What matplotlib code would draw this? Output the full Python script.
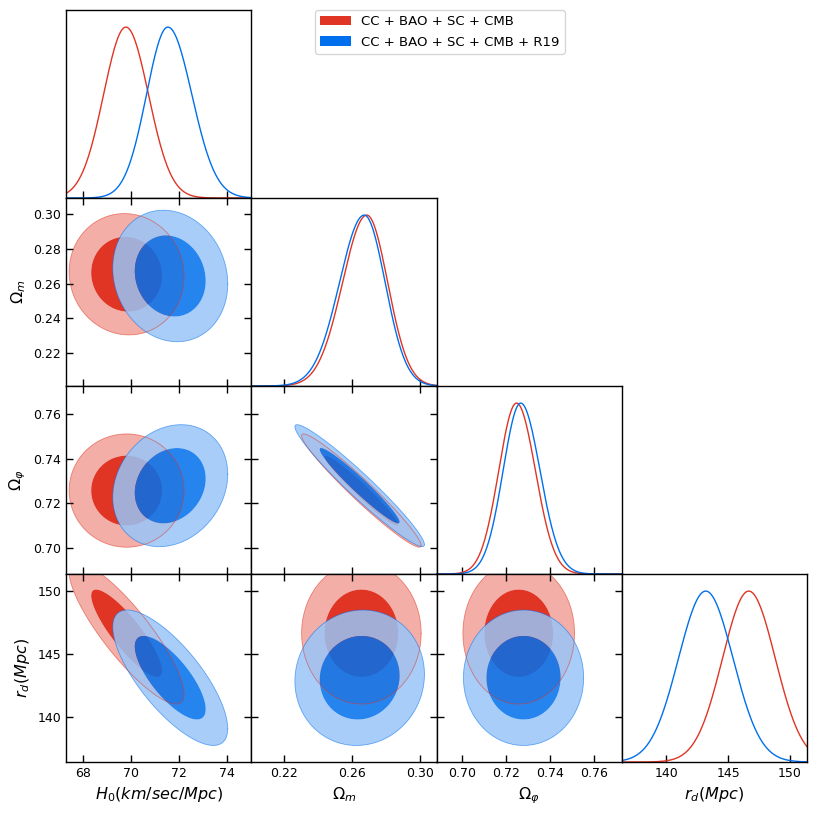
import matplotlib

matplotlib.use("Agg")

import matplotlib.pyplot as plt
import numpy as np
from matplotlib.patches import Patch, PathPatch
from matplotlib.path import Path

# parameters: H0, Omega_m, Omega_phi, r_d
axis_labels = [r"$H_0(km/sec/Mpc)$", r"$\Omega_m$", r"$\Omega_\varphi$", r"$r_d(Mpc)$"]
limits = [(67.27, 75.0), (0.201, 0.3095), (0.6883, 0.7728), (136.42, 151.37)]
xticks = [[68, 70, 72, 74], [0.22, 0.26, 0.30], [0.70, 0.72, 0.74, 0.76], [140, 145, 150]]
yticks = [[68, 70, 72, 74], [0.22, 0.24, 0.26, 0.28, 0.30], [0.70, 0.72, 0.74, 0.76], [140, 145, 150]]
tick_fmt = ["{:.0f}", "{:.2f}", "{:.2f}", "{:.0f}"]

legend_labels = ["CC + BAO + SC + CMB", "CC + BAO + SC + CMB + R19"]
colors = ["#E03424", "#006FED"]
fill_alpha = [1.0, 0.85]

# 1D marginals (peak position, width left / right of peak)
red_mode = [69.77, 0.2687, 0.7248, 146.67]
red_sig_lo = [0.93, 0.0142, 0.0081, 2.12]
red_sig_hi = [0.94, 0.0122, 0.0086, 2.14]
blue_mode = [71.52, 0.2672, 0.7267, 143.20]
blue_sig_lo = [0.89, 0.0145, 0.0080, 2.20]
blue_sig_hi = [1.00, 0.0122, 0.0088, 2.20]

# 2D contours (centre, width, correlation per pair)
red_mean = [69.80, 0.2655, 0.7258, 146.66]
red_sigma = [0.98, 0.0143, 0.0104, 2.30]
blue_mean = [71.62, 0.2645, 0.7280, 143.12]
blue_sigma = [0.98, 0.0155, 0.0112, 2.20]
pairs = [(0, 1), (0, 2), (0, 3), (1, 2), (1, 3), (2, 3)]
red_corr = [-0.04, 0.0, -0.86, -0.968, 0.0, 0.0]
blue_corr = [-0.12, 0.19, -0.75, -0.965, 0.05, 0.0]

K68 = np.sqrt(-2 * np.log(0.32))
K95 = np.sqrt(-2 * np.log(0.05))

marg = [(red_mode, red_sig_lo, red_sig_hi), (blue_mode, blue_sig_lo, blue_sig_hi)]
gauss2d = [(red_mean, red_sigma, red_corr), (blue_mean, blue_sigma, blue_corr)]


def pale(c, f=0.6):
	rgb = np.array(matplotlib.colors.to_rgb(c))
	return tuple(rgb * (1 - f) + f)


def ellipse_xy(mx, my, sx, sy, rho, k, n=240):
	t = np.linspace(0, 2 * np.pi, n)
	u, v = np.cos(t), np.sin(t)
	x = mx + k * sx * u
	y = my + k * sy * (rho * u + np.sqrt(1 - rho ** 2) * v)
	return x, y


def closed_path(x, y):
	verts = np.column_stack([x, y])
	codes = np.full(len(verts), Path.LINETO)
	codes[0] = Path.MOVETO
	codes[-1] = Path.CLOSEPOLY
	return verts, codes


fig, axes = plt.subplots(4, 4, figsize=(8.18, 8.17), dpi=100)
fig.subplots_adjust(left=66 / 818, right=807 / 818, top=1 - 10 / 817, bottom=1 - 762 / 817,
	wspace=0, hspace=0)

for i in range(4):
	for j in range(4):
		ax = axes[i, j]
		if j > i:
			ax.set_visible(False)
			continue
		for s in ax.spines.values():
			s.set_linewidth(1.0)
		ax.set_xlim(*limits[j])
		ax.set_xticks(xticks[j])
		if i == 3:
			ax.set_xticklabels([tick_fmt[j].format(t) for t in xticks[j]], fontsize=9)
			ax.set_xlabel(axis_labels[j], fontsize=11.5)
		else:
			ax.set_xticklabels([])

		if i == j:
			# 1D marginal
			xs = np.linspace(*limits[j], 400)
			for (mode, slo, shi), c in zip(marg, colors):
				s = np.where(xs < mode[j], slo[j], shi[j])
				ax.plot(xs, np.exp(-0.5 * ((xs - mode[j]) / s) ** 2), color=c, lw=1.0)
			ax.set_ylim(0, 1.1)
			ax.set_yticks([])
			ax.tick_params(axis="x", direction="in", length=5, width=1, top=False, bottom=True)
			continue

		# 2D contours
		p = pairs.index((j, i))
		outlines = []
		for (mean, sig, corr), c, a in zip(gauss2d, colors, fill_alpha):
			args = (mean[j], mean[i], sig[j], sig[i], corr[p])
			xo, yo = ellipse_xy(*args, K95)
			xi, yi = ellipse_xy(*args, K68)
			vo, co = closed_path(xo, yo)
			vi, ci = closed_path(xi[::-1], yi[::-1])
			ring = Path(np.vstack([vo, vi]), np.concatenate([co, ci]))
			ax.add_patch(PathPatch(ring, facecolor=pale(c), edgecolor="none", alpha=a))
			ax.fill(xi, yi, color=c, lw=0, alpha=a)
			outlines.append((xo, yo, c))
		for xo, yo, c in outlines:
			ax.plot(xo, yo, color=c, lw=0.6, alpha=0.55)
		ax.set_ylim(*limits[i])
		ax.set_yticks(yticks[i])
		if j == 0:
			ax.set_yticklabels([tick_fmt[i].format(t) for t in yticks[i]], fontsize=9)
			ax.set_ylabel(axis_labels[i], fontsize=11.5)
		else:
			ax.set_yticklabels([])
		ax.tick_params(direction="in", length=5, width=1, top=True, right=True)

handles = [Patch(facecolor=c, edgecolor="none") for c in colors]
fig.legend(handles, legend_labels, loc="upper left", bbox_to_anchor=(308.5 / 818, 1 - 3.5 / 817),
	fontsize=9.5, handlelength=2.3, labelspacing=0.55, frameon=True, fancybox=True,
	edgecolor="#cccccc")

fig.savefig("out.png", dpi=100)
